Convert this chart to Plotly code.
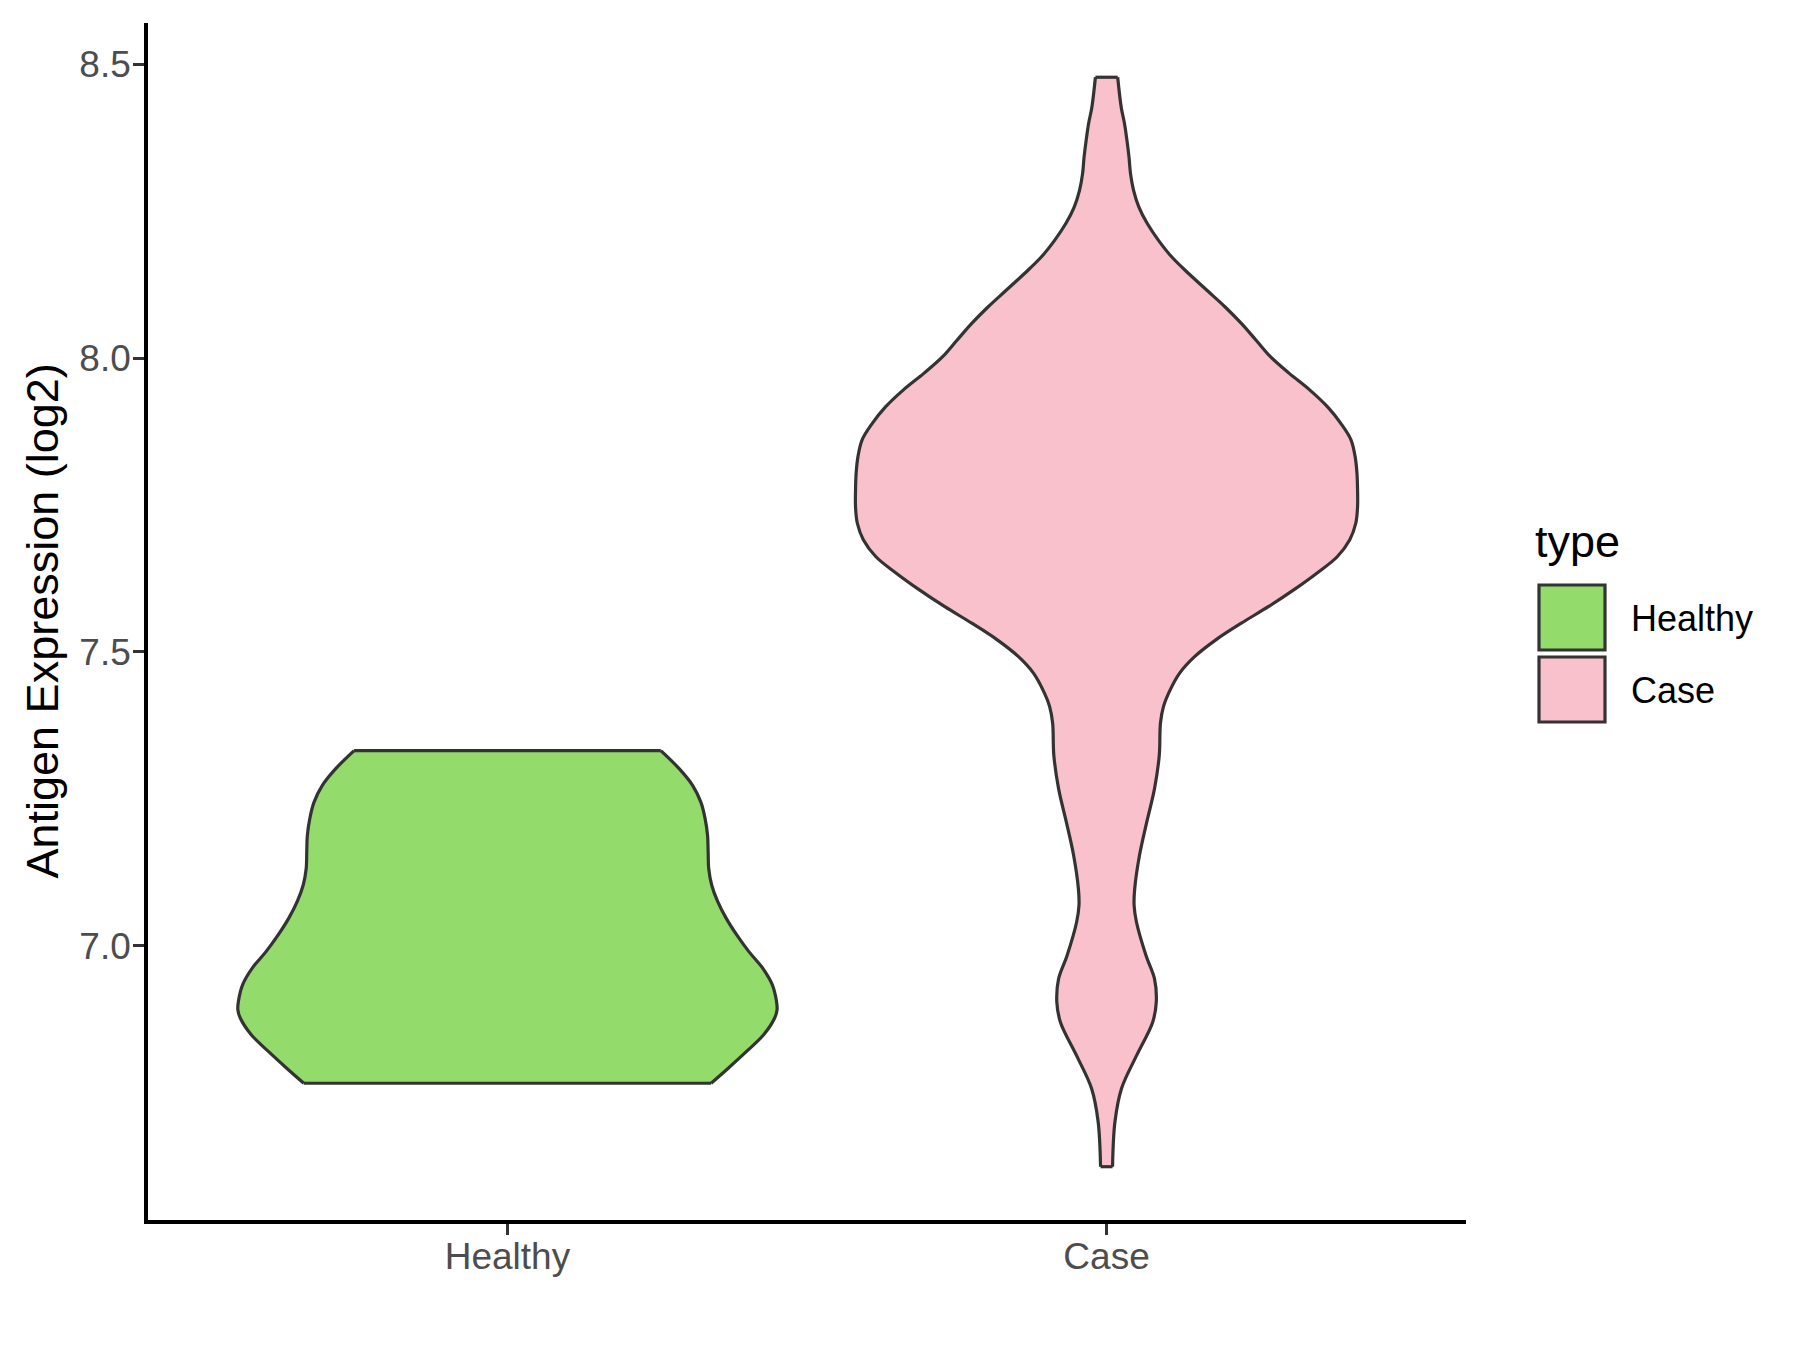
import plotly.graph_objects as go

# ---- data ----
categories = ["Healthy", "Case"]

# Violin outlines: expression values (log2) and violin half-width (x-axis units)
healthy_y = [6.766, 6.792, 6.821, 6.849, 6.877, 6.891, 6.906, 6.934, 6.962, 6.990,
             7.018, 7.047, 7.075, 7.103, 7.131, 7.160, 7.188, 7.216, 7.244, 7.273,
             7.301, 7.332]
healthy_w = [0.340, 0.369, 0.400, 0.428, 0.446, 0.450, 0.449, 0.442, 0.426, 0.403,
             0.383, 0.365, 0.351, 0.341, 0.336, 0.335, 0.334, 0.330, 0.323, 0.309,
             0.287, 0.256]

case_y = [6.624, 6.700, 6.757, 6.813, 6.870, 6.904, 6.944, 6.983, 7.040, 7.069,
          7.097, 7.154, 7.210, 7.267, 7.324, 7.379, 7.407, 7.435, 7.464, 7.492,
          7.521, 7.549, 7.577, 7.606, 7.634, 7.662, 7.691, 7.719, 7.747, 7.776,
          7.804, 7.832, 7.861, 7.889, 7.917, 7.946, 7.974, 8.002, 8.030, 8.059,
          8.087, 8.115, 8.144, 8.172, 8.200, 8.229, 8.257, 8.286, 8.314, 8.342,
          8.371, 8.399, 8.427, 8.478]
case_w = [0.010, 0.014, 0.025, 0.050, 0.077, 0.083, 0.080, 0.066, 0.050, 0.046,
          0.047, 0.055, 0.067, 0.080, 0.088, 0.090, 0.095, 0.106, 0.122, 0.147,
          0.183, 0.225, 0.270, 0.313, 0.351, 0.385, 0.406, 0.416, 0.419, 0.419,
          0.418, 0.415, 0.408, 0.391, 0.369, 0.339, 0.305, 0.274, 0.250, 0.225,
          0.198, 0.168, 0.137, 0.109, 0.087, 0.068, 0.054, 0.045, 0.040, 0.0375,
          0.034, 0.030, 0.0245, 0.0186]

y_ticks = [7.0, 7.5, 8.0, 8.5]
y_tick_labels = ["7.0", "7.5", "8.0", "8.5"]

fill_colors = ["#93DB6B", "#F8C1CC"]
outline = "#333333"
FONT = "Liberation Sans, Arial, sans-serif"

OFFX, OFFY = 6, 8  # page body offset of the html page
W, H = 1800 - OFFX, 1350 - OFFY
L, R, T, B = 146 - OFFX, 1464 - OFFX, 23 - OFFY, 1220 - OFFY  # plot area in pixels


def px(xp):
    return (xp - OFFX - L) / (R - L)


def py(yp):
    return (B - (yp - OFFY)) / (B - T)


fig = go.Figure()
LW = 3.2
for i, (ys, ws) in enumerate([(healthy_y, healthy_w), (case_y, case_w)]):
    pos = i + 1
    left = [pos - w for w in ws]
    right = [pos + w for w in ws]
    xs = left + right[::-1] + [left[0]]
    yy = list(ys) + list(ys)[::-1] + [ys[0]]
    # filled body (no outline)
    fig.add_trace(go.Scatter(
        x=xs, y=yy, mode="lines", fill="toself", fillcolor=fill_colors[i],
        line=dict(width=0, color=fill_colors[i], shape="linear"),
        showlegend=False, hoverinfo="skip"))
    # smooth outline of both sides
    for side in (left, right):
        fig.add_trace(go.Scatter(
            x=side, y=ys, mode="lines",
            line=dict(color=outline, width=LW, shape="spline", smoothing=1.0),
            showlegend=False, hoverinfo="skip"))
    # flat top and bottom edges
    for k in (0, -1):
        fig.add_trace(go.Scatter(
            x=[left[k], right[k]], y=[ys[k], ys[k]], mode="lines",
            line=dict(color=outline, width=LW),
            showlegend=False, hoverinfo="skip"))

axis_common = dict(
    showline=True, linecolor="black", linewidth=3.6, mirror=False,
    ticks="outside", ticklen=11, tickwidth=3.4, tickcolor=outline,
    tickfont=dict(family=FONT, size=37, color="#4D4D4D"),
    showgrid=False, zeroline=False,
)

fig.update_layout(
    width=W, height=H,
    margin=dict(l=L, r=W - R, t=T, b=H - B, autoexpand=False),
    paper_bgcolor="white", plot_bgcolor="white",
    xaxis=dict(range=[0.4, 2.6], tickvals=[1, 2], ticktext=categories,
               ticklabelstandoff=-10, **axis_common),
    yaxis=dict(range=[6.5333, 8.5703], tickvals=y_ticks, ticktext=y_tick_labels,
               ticklabelstandoff=-5, **axis_common),
    showlegend=False,
)

annotations = [
    dict(text="Antigen Expression (log2)", x=px(40), y=0.5, xref="paper", yref="paper",
         textangle=-90, showarrow=False, xanchor="center", yanchor="middle",
         font=dict(family=FONT, size=45, color="black")),
    dict(text="type", x=px(1531), y=py(541), xref="paper", yref="paper",
         showarrow=False, xanchor="left", yanchor="middle",
         font=dict(family=FONT, size=45, color="black")),
]
shapes = []
key_tops = [585, 657]
for i, name in enumerate(categories):
    y0 = key_tops[i]
    shapes.append(dict(type="rect", xref="paper", yref="paper",
                       x0=px(1537), x1=px(1603), y0=py(y0 + 65), y1=py(y0),
                       fillcolor=fill_colors[i], line=dict(color=outline, width=LW)))
    annotations.append(dict(text=name, x=px(1627), y=py(y0 + 33), xref="paper", yref="paper",
                            showarrow=False, xanchor="left", yanchor="middle",
                            font=dict(family=FONT, size=36, color="black")))

fig.update_layout(annotations=annotations, shapes=shapes)

fig.write_html("out.html")
